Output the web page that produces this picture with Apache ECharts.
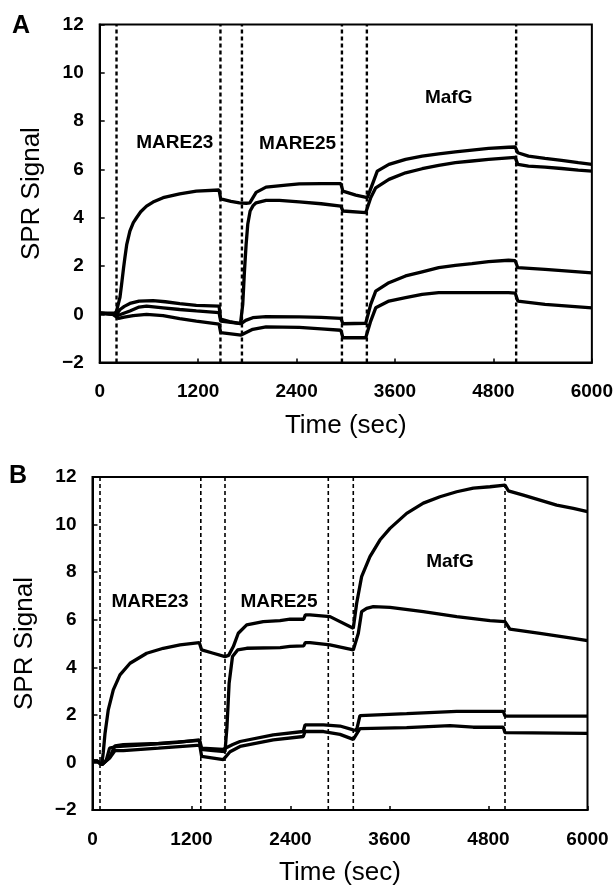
<!DOCTYPE html>
<html><head><meta charset="utf-8">
<script src="https://cdn.jsdelivr.net/npm/echarts@6.0.0/dist/echarts.min.js"></script>
<style>html,body{margin:0;padding:0;background:#fff}#c{width:616px;height:888px}</style>
</head><body><div id="c"></div>
<script>
// ---- data ----
const xTicks = [0, 1200, 2400, 3600, 4800, 6000];
const yTicks = [-2, 0, 2, 4, 6, 8, 10, 12];
const panelLetters = ['A', 'B'];
const phaseNames = ['MARE23', 'MARE25', 'MafG'];
const aPhaseLabelPos = [[915, 7.1], [2413, 7.05], [4255, 8.95]];
const bPhaseLabelPos = [[697, 6.75], [2260, 6.75], [4333, 8.45]];
const aInjections = [205, 1472, 1734, 2953, 3257, 5077];
const bInjections = [91, 1313, 1606, 2858, 3161, 5000];

const aCurve1 = [[0,0.05],[100,0.03],[180,0.0],[206,0.14],[220,0.2],[247,0.7],[267,1.24],[290,1.9],[307,2.34],[330,2.9],[368,3.45],[410,3.8],[449,4.0],[500,4.25],[571,4.48],[650,4.65],[773,4.83],[975,4.99],[1178,5.1],[1455,5.15],[1475,4.78],[1600,4.68],[1704,4.62],[1785,4.6],[1830,4.62],[1907,5.05],[2028,5.27],[2271,5.35],[2433,5.4],[2700,5.41],[2940,5.41],[2965,5.1],[3122,4.94],[3263,4.83],[3324,5.38],[3384,5.93],[3526,6.21],[3729,6.42],[3931,6.55],[4133,6.65],[4336,6.73],[4538,6.8],[4741,6.87],[4984,6.92],[5065,6.93],[5097,6.69],[5227,6.55],[5429,6.46],[5631,6.38],[5834,6.28],[6000,6.21]];
const aCurve2 = [[0,0.05],[180,0.05],[210,0.02],[248,0.2],[300,0.33],[368,0.45],[480,0.55],[650,0.57],[800,0.52],[975,0.44],[1178,0.37],[1455,0.34],[1475,-0.2],[1583,-0.3],[1716,-0.39],[1744,0.41],[1765,1.8],[1785,2.9],[1805,3.73],[1834,4.28],[1870,4.5],[1907,4.62],[2028,4.72],[2190,4.72],[2433,4.66],[2700,4.58],[2940,4.48],[2965,4.28],[3243,4.21],[3304,4.83],[3365,5.24],[3526,5.59],[3729,5.86],[3931,6.03],[4133,6.17],[4336,6.28],[4538,6.35],[4741,6.42],[4984,6.48],[5065,6.5],[5097,6.21],[5227,6.14],[5429,6.1],[5631,6.04],[5834,5.97],[6000,5.93]];
const aCurve3 = [[0,0.05],[180,0.0],[220,-0.05],[260,0.0],[368,0.14],[480,0.3],[571,0.34],[773,0.27],[975,0.2],[1178,0.14],[1455,0.07],[1475,-0.28],[1600,-0.33],[1724,-0.39],[1780,-0.25],[1866,-0.14],[2028,-0.1],[2433,-0.11],[2700,-0.13],[2940,-0.17],[2965,-0.39],[3243,-0.37],[3304,0.41],[3365,0.96],[3526,1.31],[3729,1.59],[3931,1.76],[4133,1.93],[4336,2.03],[4538,2.1],[4741,2.18],[4984,2.24],[5065,2.22],[5097,1.93],[5429,1.86],[6000,1.72]];
const aCurve4 = [[0,0.05],[160,0.0],[230,-0.17],[300,-0.12],[408,-0.05],[571,0.0],[773,-0.05],[975,-0.18],[1178,-0.28],[1455,-0.41],[1475,-0.76],[1724,-0.86],[1866,-0.62],[2028,-0.52],[2433,-0.54],[2700,-0.6],[2940,-0.66],[2965,-0.97],[3243,-0.97],[3304,-0.28],[3365,0.27],[3526,0.55],[3729,0.69],[3931,0.83],[4133,0.9],[4984,0.9],[5065,0.88],[5097,0.55],[5429,0.41],[6000,0.27]];

const bCurve1 = [[0,0.05],[60,0.05],[112,-0.1],[130,0.4],[152,1.23],[191,2.21],[252,3.05],[333,3.68],[455,4.17],[657,4.59],[858,4.8],[1061,4.94],[1294,5.04],[1323,4.73],[1464,4.59],[1606,4.45],[1650,4.5],[1707,4.87],[1767,5.43],[1869,5.78],[2070,5.92],[2273,5.96],[2394,6.02],[2560,6.02],[2580,6.2],[2636,6.2],[2879,6.13],[3161,5.64],[3202,6.69],[3262,7.81],[3363,8.65],[3484,9.35],[3606,9.84],[3808,10.47],[4010,10.9],[4212,11.17],[4414,11.38],[4616,11.53],[4818,11.59],[5000,11.66],[5040,11.42],[5222,11.24],[5424,11.03],[5626,10.82],[5828,10.68],[6000,10.54]];
const bCurve2 = [[0,0.05],[60,0.05],[112,-0.1],[166,0.08],[207,0.6],[290,0.67],[621,0.74],[1035,0.84],[1294,0.95],[1313,0.55],[1464,0.5],[1606,0.45],[1630,1.5],[1656,3.33],[1697,4.45],[1759,4.73],[1869,4.8],[2276,4.83],[2394,4.88],[2560,4.9],[2580,5.04],[2636,5.04],[2879,4.94],[3161,4.73],[3222,5.43],[3262,6.34],[3323,6.48],[3404,6.55],[3606,6.52],[4010,6.34],[4414,6.13],[4818,5.96],[5000,5.92],[5060,5.6],[5424,5.43],[5828,5.22],[6000,5.12]];
const bCurve3 = [[0,0.05],[60,0.05],[112,-0.1],[212,0.25],[273,0.7],[373,0.75],[800,0.8],[1263,0.92],[1300,0.92],[1323,0.6],[1585,0.55],[1606,0.5],[1700,0.75],[1788,0.88],[2191,1.16],[2555,1.3],[2576,1.58],[2800,1.58],[3000,1.53],[3161,1.37],[3200,1.35],[3242,1.97],[3808,2.05],[4414,2.15],[4979,2.15],[5000,1.95],[6000,1.95]];
const bCurve4 = [[0,0.05],[60,0.05],[112,-0.1],[212,0.2],[273,0.5],[373,0.5],[800,0.6],[1263,0.72],[1300,0.72],[1323,0.25],[1585,0.12],[1606,0.1],[1667,0.45],[1788,0.67],[2191,0.95],[2555,1.09],[2576,1.3],[2800,1.3],[3000,1.18],[3161,0.97],[3242,1.42],[3808,1.46],[4333,1.55],[4615,1.48],[4979,1.48],[5000,1.25],[6000,1.22]];

const aCurves = [aCurve1, aCurve2, aCurve3, aCurve4];
const bCurves = [bCurve1, bCurve2, bCurve3, bCurve4];

// ---- chart ----
const FONT = '"Liberation Sans", Arial, sans-serif';
const chart = echarts.init(document.getElementById('c'), null, {renderer: 'canvas'});

function axesFor(i) {
  return {
    x: {
      type: 'value', gridIndex: i, min: xTicks[0], max: xTicks[xTicks.length - 1],
      interval: xTicks[1] - xTicks[0],
      axisLine: {show: true, onZero: false, lineStyle: {color: '#000', width: 2}},
      axisTick: {show: true, inside: true, length: 4, lineStyle: {color: '#000', width: 1.5}},
      splitLine: {show: false},
      axisLabel: {color: '#000', fontFamily: FONT, fontSize: 19, fontWeight: 'bold', margin: 20,
        formatter: v => String(v)},
      name: 'Time (sec)', nameLocation: 'middle', nameGap: 50,
      nameTextStyle: {color: '#000', fontFamily: FONT, fontSize: 26}
    },
    y: {
      type: 'value', gridIndex: i, min: yTicks[0], max: yTicks[yTicks.length - 1],
      interval: yTicks[1] - yTicks[0],
      axisLine: {show: true, onZero: false, lineStyle: {color: '#000', width: 2}},
      axisTick: {show: true, inside: true, length: 5, lineStyle: {color: '#000', width: 1.5}},
      splitLine: {show: false},
      axisLabel: {color: '#000', fontFamily: FONT, fontSize: 19, fontWeight: 'bold', margin: 16,
        formatter: v => String(v).replace('-', '\u2212')},
      name: 'SPR Signal', nameLocation: 'middle', nameGap: 55, nameRotate: 90,
      nameTextStyle: {color: '#000', fontFamily: FONT, fontSize: 26}
    }
  };
}

const axA = axesFor(0), axB = axesFor(1);
const series = [];
function addPanel(idx, curves, injections, labelPos, dashWidth) {
  curves.forEach(c => series.push({
    type: 'line', xAxisIndex: idx, yAxisIndex: idx, data: c, showSymbol: false,
    symbol: 'none', smooth: false, lineStyle: {color: '#000', width: 3.3}, z: 3
  }));
  injections.forEach(t => series.push({
    type: 'line', xAxisIndex: idx, yAxisIndex: idx, symbol: 'none',
    data: [[t, yTicks[0]], [t, yTicks[yTicks.length - 1]]],
    lineStyle: {color: '#000', width: dashWidth, type: [4, 3]}, z: 2
  }));
  series.push({
    type: 'scatter', xAxisIndex: idx, yAxisIndex: idx, symbolSize: 0,
    itemStyle: {color: '#000', opacity: 1},
    data: labelPos.map((p, k) => ({value: p, name: phaseNames[k]})),
    label: {show: true, position: [0, 0], align: 'center', verticalAlign: 'middle',
      formatter: '{b}', color: '#000', opacity: 1, textBorderWidth: 0,
      fontFamily: FONT, fontSize: 19, fontWeight: 'bold'}, z: 4
  });
}
addPanel(0, aCurves, aInjections, aPhaseLabelPos, 2.4);
addPanel(1, bCurves, bInjections, bPhaseLabelPos, 1.6);

chart.setOption({
  animation: false,
  backgroundColor: '#fff',
  grid: [
    {left: 99.7, top: 24.6, width: 494, height: 338, show: true, borderColor: '#000', borderWidth: 2, backgroundColor: 'transparent'},
    {left: 92.5, top: 477, width: 495, height: 333, show: true, borderColor: '#000', borderWidth: 2, backgroundColor: 'transparent'}
  ],
  xAxis: [axA.x, axB.x],
  yAxis: [axA.y, axB.y],
  graphic: [
    {type: 'text', left: 12, top: 14, style: {text: panelLetters[0], font: 'bold 25px ' + FONT, fill: '#000'}},
    {type: 'text', left: 9, top: 464, style: {text: panelLetters[1], font: 'bold 25px ' + FONT, fill: '#000'}}
  ],
  series: series
});
</script>
</body></html>
